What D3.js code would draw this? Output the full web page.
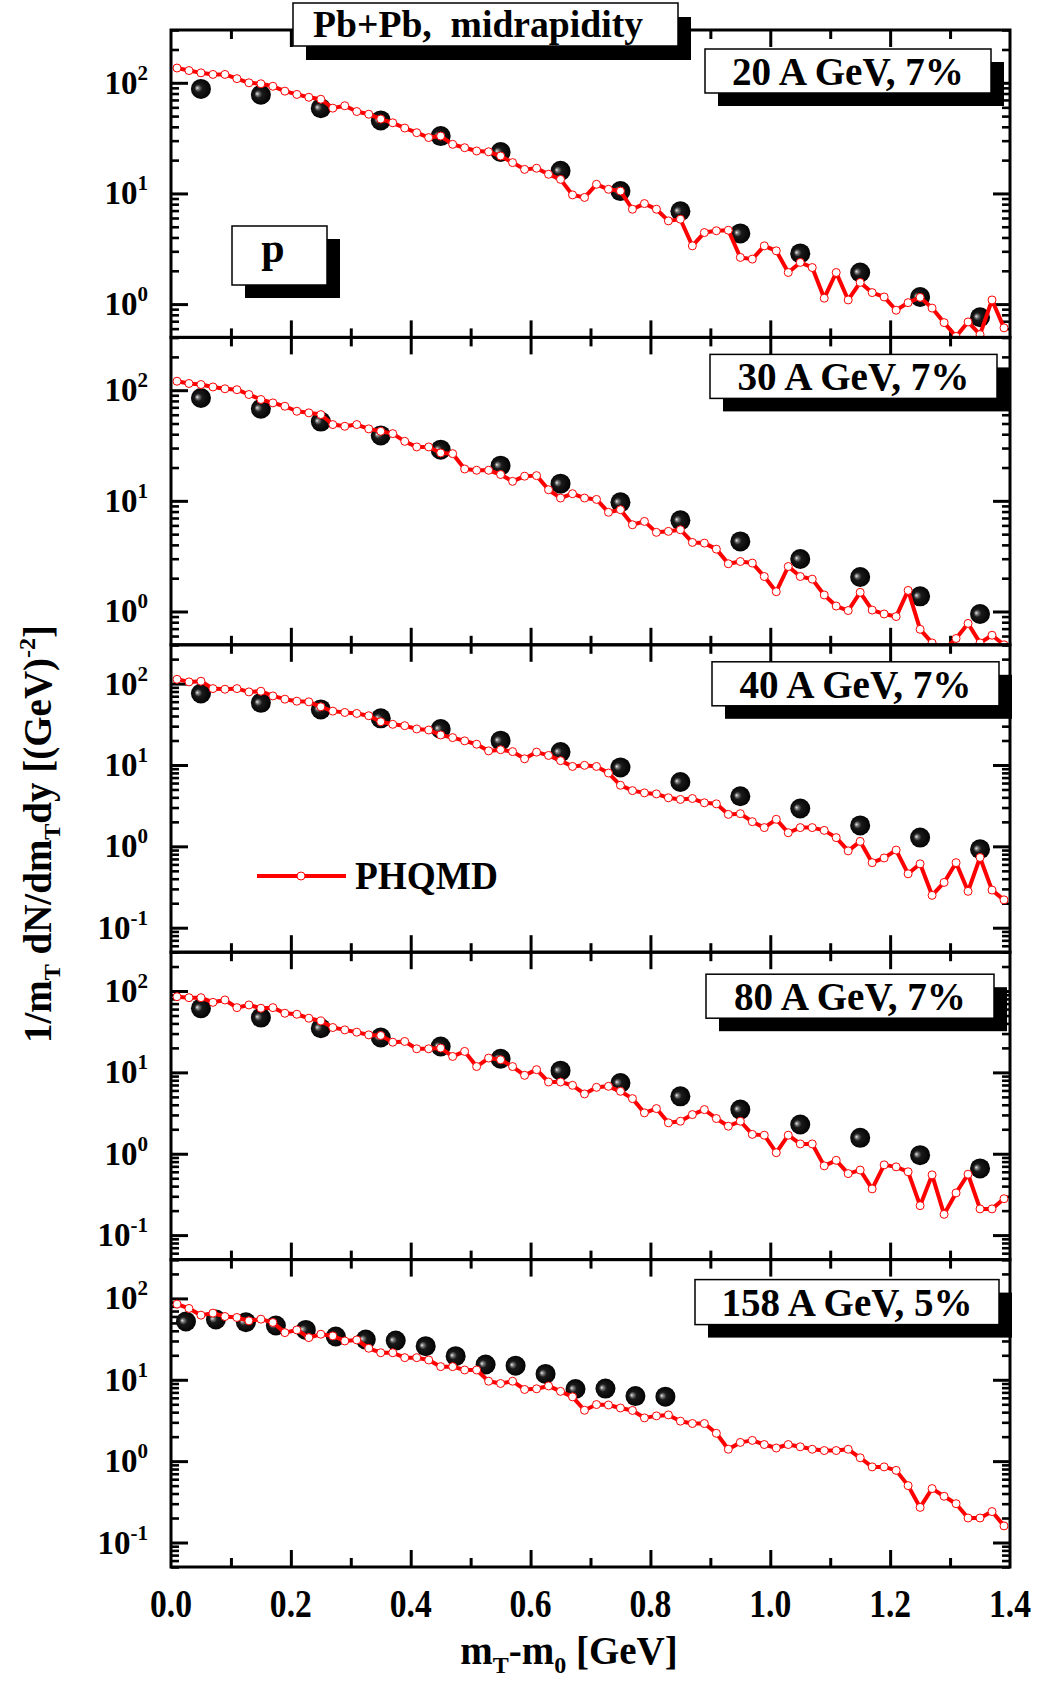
<!DOCTYPE html>
<head>
  <meta charset="utf-8">
  <style>
    body { margin: 0; background: #fff; }
    svg text {
      font-family: 'Liberation Serif', 'Times New Roman', serif;
      font-weight: bold;
      white-space: pre;
    }
  </style>
  <script src="https://cdn.jsdelivr.net/npm/d3@7"></script>
</head>
<body>
<div id="chart"></div>

<script>
// mT - m0 grids [GeV]
const mt_data = [0.05, 0.15, 0.25, 0.35, 0.45, 0.55, 0.65, 0.75, 0.85, 0.95, 1.05, 1.15, 1.25, 1.35]
const mt_data_158 = [0.025, 0.075, 0.125, 0.175, 0.225, 0.275, 0.325, 0.375, 0.425, 0.475, 0.525, 0.575, 0.625, 0.675, 0.725, 0.775, 0.825]
const mt_model = [
  0.01, 0.03, 0.05, 0.07, 0.09, 0.11, 0.13, 0.15, 0.17, 0.19,
  0.21, 0.23, 0.25, 0.27, 0.29, 0.31, 0.33, 0.35, 0.37, 0.39,
  0.41, 0.43, 0.45, 0.47, 0.49, 0.51, 0.53, 0.55, 0.57, 0.59,
  0.61, 0.63, 0.65, 0.67, 0.69, 0.71, 0.73, 0.75, 0.77, 0.79,
  0.81, 0.83, 0.85, 0.87, 0.89, 0.91, 0.93, 0.95, 0.97, 0.99,
  1.01, 1.03, 1.05, 1.07, 1.09, 1.11, 1.13, 1.15, 1.17, 1.19,
  1.21, 1.23, 1.25, 1.27, 1.29, 1.31, 1.33, 1.35, 1.37, 1.39,
]

const panel_labels = ['20 A GeV, 7%', '30 A GeV, 7%', '40 A GeV, 7%', '80 A GeV, 7%', '158 A GeV, 5%']
const x_ticks = [0.0, 0.2, 0.4, 0.6, 0.8, 1.0, 1.2, 1.4]
const x_minor = [0.1, 0.3, 0.5, 0.7, 0.9, 1.1, 1.3]

// experimental points (black balls)
const data_20 = [88, 78, 59, 45.7, 33, 23.7, 16, 10.5, 6.9, 4.35, 2.87, 1.93, 1.16, 0.76]
const data_30 = [85, 68, 52, 39, 29, 20.8, 14.3, 9.7, 6.66, 4.3, 2.98, 2.05, 1.37, 0.95]
const data_40 = [75.5, 58, 48.2, 37.4, 27.7, 19.9, 14.4, 9.34, 6.18, 4.13, 2.92, 1.81, 1.28, 0.92]
const data_80 = [61.4, 47.1, 34.9, 26.8, 20.8, 14.7, 10.5, 7.4, 5.08, 3.49, 2.29, 1.57, 0.96, 0.66]
const data_158 = [52, 55, 51, 46.5, 41, 34, 31.2, 30.3, 25.9, 19.5, 15.4, 14.9, 11.8, 7.7, 7.8, 6.3, 6.2]

// PHQMD
const phqmd_20 = [
  136, 129, 123, 119, 119, 109, 100, 98, 93, 84,
  78.5, 74, 71, 59, 62, 55, 52, 47, 43.5, 39,
  35.4, 32, 33, 27.8, 25.9, 24.2, 23.8, 21.8, 19, 16.5,
  16.9, 14.9, 13.4, 9.7, 9.2, 12.1, 10.9, 10.5, 7.2, 8.1,
  7.2, 5.65, 5.85, 3.36, 4.43, 4.6, 4.65, 2.64, 2.55, 3.36,
  3.03, 1.93, 2.38, 2.14, 1.13, 1.93, 1.09, 1.57, 1.27, 1.16,
  0.88, 1.03, 1.15, 0.92, 0.68, 0.51, 0.69, 0.53, 1.09, 0.61,
]
const phqmd_30 = [
  120.5, 115, 112.5, 107, 103, 101, 91.4, 82.4, 76.8, 71.6,
  64.5, 62.4, 60.2, 48.9, 47.2, 48.9, 44.7, 42.5, 40.5, 34.5,
  30.7, 30.7, 27.1, 26.7, 19.4, 18.9, 18.9, 17.3, 15, 16.7,
  16.9, 12.6, 10.6, 11.6, 10.6, 10.3, 7.88, 8.32, 6.08, 6.52,
  5.19, 5.3, 5.48, 4.21, 4.15, 3.66, 2.7, 2.83, 2.74, 2.07,
  1.51, 2.55, 2.07, 1.96, 1.41, 1.12, 1.02, 1.49, 1.03, 0.95,
  0.9, 1.55, 0.69, 0.52, 0.45, 0.57, 0.78, 0.52, 0.61, 0.5,
]
const phqmd_40 = [
  113, 105, 107, 86.9, 85.3, 86.9, 79.1, 80.6, 70.6, 64.4,
  60.8, 59.7, 51.9, 45.9, 44.2, 43, 40.3, 34, 31.6, 30.4,
  27.7, 26.9, 23.4, 21.7, 19.8, 18, 14.9, 15.4, 14.6, 11.9,
  14.4, 13.1, 11.3, 9.6, 9.9, 9.6, 7.96, 5.63, 4.84, 4.54,
  4.41, 3.95, 3.77, 3.87, 3.43, 3.33, 2.47, 2.52, 2.01, 1.7,
  2.15, 1.47, 1.7, 1.7, 1.57, 1.28, 0.88, 1.15, 0.63, 0.72,
  0.9, 0.46, 0.61, 0.25, 0.36, 0.63, 0.28, 0.73, 0.29, 0.22,
]
const phqmd_80 = [
  85.2, 82.8, 82.8, 72.6, 77.6, 62.5, 67.4, 61.4, 62.5, 53.3,
  51.8, 46.3, 42.9, 35.6, 33.3, 31.2, 28.9, 28.4, 23.5, 24,
  19.5, 19.5, 19.9, 15.7, 18.1, 11.8, 15, 14.3, 11.8, 9.2,
  10.8, 7.62, 7.62, 6.93, 5.43, 6.55, 6.74, 5.85, 4.76, 3.18,
  3.59, 2.4, 2.51, 3.03, 3.49, 2.71, 2.18, 2.51, 1.73, 1.69,
  1.03, 1.69, 1.32, 1.32, 0.71, 0.83, 0.57, 0.63, 0.37, 0.73,
  0.69, 0.6, 0.23, 0.55, 0.18, 0.33, 0.56, 0.21, 0.21, 0.28,
]
const phqmd_158 = [
  85.1, 75.3, 62.3, 65.9, 59.9, 58.3, 53, 55.6, 50.6, 38,
  41, 33, 36.3, 34.6, 30, 30.9, 24.4, 21.5, 21.5, 18.7,
  18.7, 17.5, 14.5, 14.5, 13.2, 13.2, 9.6, 9, 9.6, 7.6,
  7.75, 8.4, 7.2, 6.17, 4.22, 4.96, 4.9, 4.5, 4.2, 3.4,
  3.6, 3.7, 3.1, 2.9, 2.9, 2.2, 1.4, 1.7, 1.8, 1.6,
  1.45, 1.6, 1.5, 1.4, 1.35, 1.35, 1.4, 1.1, 0.85, 0.85,
  0.77, 0.5, 0.27, 0.46, 0.37, 0.3, 0.2, 0.2, 0.24, 0.16,
]

const panels = [
  { label: panel_labels[0], dx: mt_data, dy: data_20, model: phqmd_20, domain: [0.5, 300] },
  { label: panel_labels[1], dx: mt_data, dy: data_30, model: phqmd_30, domain: [0.5, 300] },
  { label: panel_labels[2], dx: mt_data, dy: data_40, model: phqmd_40, domain: [0.05, 300] },
  { label: panel_labels[3], dx: mt_data, dy: data_80, model: phqmd_80, domain: [0.05, 300] },
  { label: panel_labels[4], dx: mt_data_158, dy: data_158, model: phqmd_158, domain: [0.05, 300] },
]

// label boxes, relative to panel top
const label_box = [
  { x: 705, y: 19, w: 286, h: 44, tw: 232 },
  { x: 710, y: 17, w: 287, h: 44, tw: 232 },
  { x: 712, y: 17, w: 287, h: 44, tw: 232 },
  { x: 706, y: 22, w: 288, h: 44, tw: 232 },
  { x: 695, y: 20, w: 304, h: 45, tw: 251 },
]

const W = 1038, H = 1688
const plot_left = 171, plot_right = 1010, plot_top = 30, plot_bottom = 1567
const panel_h = (plot_bottom - plot_top) / panels.length
const red = '#ff0000'

const svg = d3.select('#chart').append('svg')
  .attr('width', W).attr('height', H)
  .attr('viewBox', [0, 0, W, H])
svg.append('rect').attr('width', W).attr('height', H).attr('fill', '#fff')

const defs = svg.append('defs')
const ball = defs.append('radialGradient').attr('id', 'ball')
  .attr('cx', '50%').attr('cy', '50%').attr('r', '55%').attr('fx', '30%').attr('fy', '45%')
ball.selectAll('stop')
  .data([[0, '#f0f0f0'], [0.14, '#808080'], [0.35, '#1a1a1a'], [1, '#000']])
  .join('stop').attr('offset', d => d[0]).attr('stop-color', d => d[1])

const x = d3.scaleLinear().domain([0, 1.4]).range([plot_left, plot_right])

// box with drop shadow
const shadow_box = (g, bx, by, bw, bh, dx = 13, dy = 13) => {
  g.append('rect').attr('x', bx + dx).attr('y', by + dy).attr('width', bw).attr('height', bh).attr('fill', '#000')
  g.append('rect').attr('x', bx).attr('y', by).attr('width', bw).attr('height', bh)
    .attr('fill', '#fff').attr('stroke', '#000').attr('stroke-width', 1.5)
}

const overlay = []

panels.forEach((p, i) => {
  const y0 = plot_top + i * panel_h, y1 = y0 + panel_h
  const y = d3.scaleLog().domain(p.domain).range([y1, y0])
  const g = svg.append('g')

  defs.append('clipPath').attr('id', `clip${i}`)
    .append('rect').attr('x', plot_left).attr('y', y0).attr('width', plot_right - plot_left).attr('height', panel_h)

  // ticks, all pointing inward
  const lo = Math.floor(Math.log10(p.domain[0])), hi = Math.ceil(Math.log10(p.domain[1]))
  const y_major = [], y_minor = []
  for (let e = lo; e <= hi; e++) {
    const v = Math.pow(10, e)
    if (v >= p.domain[0] && v <= p.domain[1]) y_major.push(v)
    for (let m = 2; m <= 9; m++) {
      const w = m * v
      if (w >= p.domain[0] && w <= p.domain[1]) y_minor.push(w)
    }
  }
  const add_axis = (axis, transform, width) => g.append('g')
    .attr('transform', transform)
    .call(axis.tickFormat(''))
    .call(a => a.select('.domain').remove())
    .call(a => a.selectAll('line').attr('stroke', '#000').attr('stroke-width', width))
  const x_inner = x_ticks.slice(1, -1)
  add_axis(d3.axisBottom(x).tickValues(x_inner).tickSize(-17), `translate(0,${y1})`, 3)
  add_axis(d3.axisTop(x).tickValues(x_inner).tickSize(-17), `translate(0,${y0})`, 3)
  add_axis(d3.axisBottom(x).tickValues(x_minor).tickSize(-9), `translate(0,${y1})`, 3)
  add_axis(d3.axisTop(x).tickValues(x_minor).tickSize(-9), `translate(0,${y0})`, 3)
  add_axis(d3.axisLeft(y).tickValues(y_major).tickSize(-17), `translate(${plot_left},0)`, 3)
  add_axis(d3.axisRight(y).tickValues(y_major).tickSize(-17), `translate(${plot_right},0)`, 3)
  add_axis(d3.axisLeft(y).tickValues(y_minor).tickSize(-8), `translate(${plot_left},0)`, 2.6)
  add_axis(d3.axisRight(y).tickValues(y_minor).tickSize(-8), `translate(${plot_right},0)`, 2.6)

  // y tick labels 10^n
  g.append('g').selectAll('text').data(y_major).join('text')
    .attr('x', 148).attr('y', d => y(d) + 11)
    .attr('text-anchor', 'end').attr('font-size', 33)
    .each(function (d) {
      const t = d3.select(this)
      t.append('tspan').text('10')
      t.append('tspan').attr('font-size', 21).attr('dy', -14).text(String(Math.round(Math.log10(d))))
    })

  // experimental balls
  g.append('g').selectAll('circle')
    .data(p.dx.map((v, j) => [v, p.dy[j]]))
    .join('circle')
    .attr('cx', d => x(d[0])).attr('cy', d => y(d[1]))
    .attr('r', 10).attr('fill', 'url(#ball)')

  // PHQMD line
  const model = mt_model.map((v, j) => [v, p.model[j]])
  const gl = g.append('g').attr('clip-path', `url(#clip${i})`)
  gl.append('path')
    .attr('d', d3.line().x(d => x(d[0])).y(d => y(d[1]))(model))
    .attr('fill', 'none').attr('stroke', red).attr('stroke-width', 4).attr('stroke-linejoin', 'round')
  gl.append('g').selectAll('circle').data(model).join('circle')
    .attr('cx', d => x(d[0])).attr('cy', d => y(d[1]))
    .attr('r', 4).attr('fill', '#fff').attr('stroke', red).attr('stroke-width', 1)

  // frame
  g.append('rect').attr('x', plot_left).attr('y', y0).attr('width', plot_right - plot_left).attr('height', panel_h)
    .attr('fill', 'none').attr('stroke', '#000').attr('stroke-width', 3)

  overlay.push({ p, y0, box: label_box[i] })
})

// label boxes drawn on top
overlay.forEach(({ p, y0, box }) => {
  const g = svg.append('g')
  shadow_box(g, box.x, y0 + box.y, box.w, box.h)
  g.append('text').attr('x', box.x + box.w / 2).attr('y', y0 + box.y + 36)
    .attr('text-anchor', 'middle').attr('font-size', 39)
    .attr('textLength', box.tw).attr('lengthAdjust', 'spacingAndGlyphs')
    .text(p.label)
})

// title
{
  const g = svg.append('g')
  shadow_box(g, 293, 3, 385, 43, 13, 14)
  g.append('text').attr('x', 478).attr('y', 37).attr('text-anchor', 'middle')
    .attr('font-size', 38).attr('textLength', 330).attr('lengthAdjust', 'spacingAndGlyphs')
    .text('Pb+Pb,  midrapidity')
}

// particle box
{
  const g = svg.append('g')
  shadow_box(g, 232, 226, 95, 59)
  g.append('text').attr('x', 273).attr('y', 262).attr('text-anchor', 'middle')
    .attr('font-size', 42).text('p')
}

// legend
{
  const g = svg.append('g')
  g.append('line').attr('x1', 257).attr('x2', 346).attr('y1', 876).attr('y2', 876)
    .attr('stroke', red).attr('stroke-width', 4)
  g.append('circle').attr('cx', 301).attr('cy', 876).attr('r', 4)
    .attr('fill', '#fff').attr('stroke', red).attr('stroke-width', 1)
  g.append('text').attr('x', 355).attr('y', 889).attr('font-size', 39)
    .attr('textLength', 143).attr('lengthAdjust', 'spacingAndGlyphs').text('PHQMD')
}

// x tick labels
svg.append('g').selectAll('text').data(x_ticks).join('text')
  .attr('x', d => x(d)).attr('y', 1617)
  .attr('text-anchor', 'middle').attr('font-size', 39)
  .attr('textLength', 42).attr('lengthAdjust', 'spacingAndGlyphs')
  .text(d3.format('.1f'))

// x title
{
  const t = svg.append('text').attr('x', 569).attr('y', 1664).attr('text-anchor', 'middle').attr('font-size', 39)
  t.append('tspan').text('m')
  t.append('tspan').attr('font-size', 24).attr('dy', 9).text('T')
  t.append('tspan').attr('dy', -9).text('-m')
  t.append('tspan').attr('font-size', 24).attr('dy', 9).text('0')
  t.append('tspan').attr('dy', -9).text(' [GeV]')
}

// y title
{
  const t = svg.append('text').attr('transform', 'translate(51,834) rotate(-90)')
    .attr('text-anchor', 'middle').attr('font-size', 39)
  t.append('tspan').text('1/m')
  t.append('tspan').attr('font-size', 24).attr('dy', 9).text('T')
  t.append('tspan').attr('dy', -9).text(' dN/dm')
  t.append('tspan').attr('font-size', 24).attr('dy', 9).text('T')
  t.append('tspan').attr('dy', -9).text('dy [(GeV)')
  t.append('tspan').attr('font-size', 24).attr('dy', -16).text('-2')
  t.append('tspan').attr('dy', 16).text(']')
}
</script>
</body>
